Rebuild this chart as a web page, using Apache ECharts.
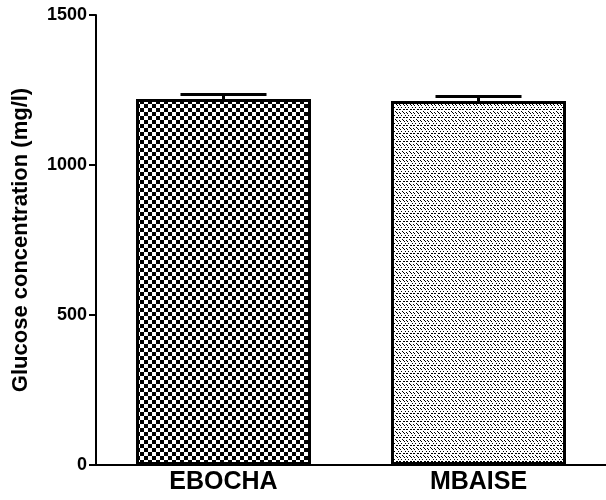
<!DOCTYPE html>
<html>
<head>
<meta charset="utf-8">
<script src="https://cdn.jsdelivr.net/npm/echarts@6/dist/echarts.min.js"></script>
<style>
  html, body { margin: 0; padding: 0; background: #fff; }
  #main { width: 606px; height: 500px; }
</style>
</head>
<body>
<div id="main"></div>
<script>
// data
const categories = ['EBOCHA', 'MBAISE']
const means = [1220, 1213]
const errors = [15, 15]
const yTicks = [0, 500, 1000, 1500]

// checkerboard fill for the first bar
function checker(size) {
  const c = document.createElement('canvas')
  c.width = c.height = size * 2
  const ctx = c.getContext('2d')
  ctx.fillStyle = '#fff'
  ctx.fillRect(0, 0, c.width, c.height)
  ctx.fillStyle = '#000'
  ctx.fillRect(0, 0, size, size)
  ctx.fillRect(size, size, size, size)
  return c
}

// sparse dotted fill for the second bar
function dots() {
  const tile = [
    '1000100',
    '0100010',
    '0000000',
    '0010001',
    '0000000',
    '1100110',
    '0000000',
    '0001000'
  ]
  const c = document.createElement('canvas')
  c.width = tile[0].length
  c.height = tile.length
  const ctx = c.getContext('2d')
  ctx.fillStyle = '#fff'
  ctx.fillRect(0, 0, c.width, c.height)
  ctx.fillStyle = '#000'
  tile.forEach((row, y) => {
    for (let x = 0; x < row.length; x++) {
      if (row[x] === '1') ctx.fillRect(x, y, 1, 1)
    }
  })
  return c
}

const fills = [checker(4), dots()]

const chart = echarts.init(document.getElementById('main'))

const option = {
  animation: false,
  grid: { left: 96, right: -10, top: 15, bottom: 35 },
  xAxis: {
    type: 'category',
    data: categories,
    axisLine: { lineStyle: { color: '#000', width: 2 } },
    axisTick: { alignWithLabel: true, length: 5, lineStyle: { color: '#000', width: 2 } },
    axisLabel: {
      color: '#000',
      fontFamily: 'Liberation Sans',
      fontWeight: 'bold',
      fontSize: 25,
      margin: 5
    }
  },
  yAxis: {
    type: 'value',
    min: yTicks[0],
    max: yTicks[yTicks.length - 1],
    interval: 500,
    name: 'Glucose concentration (mg/l)',
    nameLocation: 'middle',
    nameGap: 64,
    nameTextStyle: {
      color: '#000',
      fontFamily: 'Liberation Sans',
      fontWeight: 'bold',
      fontSize: 22
    },
    axisLine: { show: true, lineStyle: { color: '#000', width: 2 } },
    axisTick: { show: true, length: 7, lineStyle: { color: '#000', width: 2 } },
    axisLabel: {
      color: '#000',
      fontFamily: 'Liberation Sans',
      fontWeight: 'bold',
      fontSize: 18,
      margin: 9,
      formatter: v => String(v)
    },
    splitLine: { show: false }
  },
  series: [
    {
      type: 'bar',
      barWidth: 175,
      data: means.map((v, i) => ({
        value: v,
        itemStyle: {
          color: { image: fills[i], repeat: 'repeat' },
          borderColor: '#000',
          borderWidth: 3
        }
      }))
    },
    {
      type: 'custom',
      z: 5,
      data: means.map((v, i) => [i, v, v + errors[i]]),
      renderItem: function (params, api) {
        const base = api.coord([api.value(0), api.value(1)])
        const top = api.coord([api.value(0), api.value(2)])
        const half = 43
        const style = { stroke: '#000', lineWidth: 3 }
        return {
          type: 'group',
          children: [
            { type: 'line', shape: { x1: top[0], y1: base[1], x2: top[0], y2: top[1] }, style },
            { type: 'line', shape: { x1: top[0] - half, y1: top[1], x2: top[0] + half, y2: top[1] }, style }
          ]
        }
      }
    }
  ]
}

chart.setOption(option)
</script>
</body>
</html>
